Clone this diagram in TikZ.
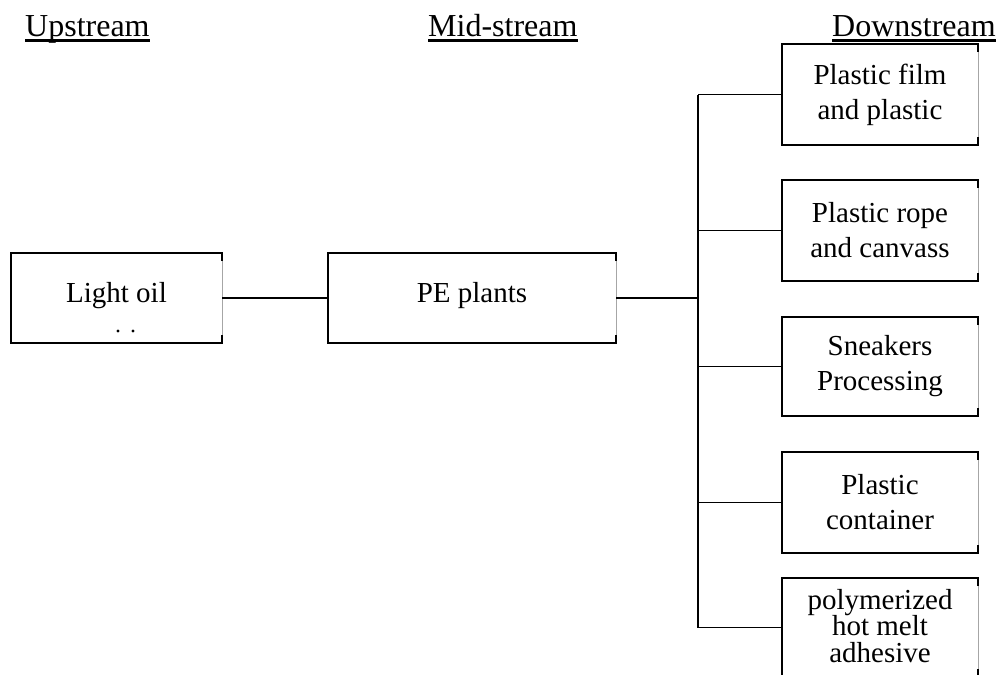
\documentclass[tikz,border=0pt]{standalone}
\usepackage{fontspec}
\setmainfont{Liberation Serif}
\begin{document}
\begin{tikzpicture}[x=1pt,y=-1pt]
\tikzset{
  frame/.style={inner sep=0pt, outer sep=0pt, align=center,
    font=\fontsize{29}{35}\selectfont},
  boxlabel/.style={inner sep=0pt, align=center,
    font=\fontsize{29}{35}\selectfont},
  header/.style={inner sep=0pt, anchor=base west,
    font=\fontsize{32}{38}\selectfont},
  edge/.style={line width=2pt, line join=miter},
  faint/.style={line width=0.8pt, black!35},
  link/.style={line width=1.8pt},
  busline/.style={line width=2.4pt},
}
% box with a faint right side and short dark ends at its right corners
\newcommand\openframe[1]{%
  \draw[faint] (#1.north east) -- (#1.south east);
  \draw[edge] ([yshift=-8pt]#1.north east) -- (#1.north east) -- (#1.north west)
     -- (#1.south west) -- (#1.south east) -- ([yshift=8pt]#1.south east);
}
\useasboundingbox (0,0) rectangle (997,675);
\clip (0,0) rectangle (997,675);

% column headings
\node[header] (up) at (25,36) {Upstream};
\node[header] (mid) at (428,36) {Mid-stream};
\node[header] (down) at (832,36) {Downstream};
\foreach \h in {up,mid,down}
  {\draw[line width=2.2pt] ([yshift=-4.5pt]\h.base west) -- ([yshift=-4.5pt]\h.base east);}

% upstream and mid-stream boxes
\node[frame, minimum width=211, minimum height=90] (light) at (116.5,298) {};
\node[boxlabel, anchor=base] (lighttext) at (116.5,302) {Light oil};
\fill (118,331) circle (1.7);
\fill (133,331) circle (1.7);
\node[frame, minimum width=288, minimum height=90] (pe) at (472,298) {};
\node[boxlabel, anchor=base] (petext) at (472,302) {PE plants};
\openframe{light}
\openframe{pe}

% downstream boxes
\node[frame, minimum width=196, minimum height=101] (d1) at (880,94.5)
  {Plastic film\\and plastic};
\node[frame, minimum width=196, minimum height=101] (d2) at (880,230.5)
  {Plastic rope\\and canvass};
\node[frame, minimum width=196, minimum height=99] (d3) at (880,366.5)
  {Sneakers\\Processing};
\node[frame, minimum width=196, minimum height=101] (d4) at (880,502.5)
  {Plastic\\container};
\node[frame, minimum width=196, minimum height=99] (d5) at (880,627.5) {};
\node[boxlabel, anchor=north, font=\fontsize{29}{26.5}\selectfont] (d5text) at (880,589)
  {polymerized\\hot melt\\adhesive};
\foreach \b in {d1,d2,d3,d4,d5} {\openframe{\b}}

% connectors
\coordinate (bus) at (698,0);
\draw[link] (light.east) -- (pe.west);
\draw[busline] (pe.east) -- (bus |- pe.east);
\draw[busline] (bus |- d1.west) -- (bus |- d5.west);
\foreach \b in {d1,d2,d3,d4,d5}
  {\draw[link] (bus |- \b.west) -- (\b.west);}
\end{tikzpicture}
\end{document}
